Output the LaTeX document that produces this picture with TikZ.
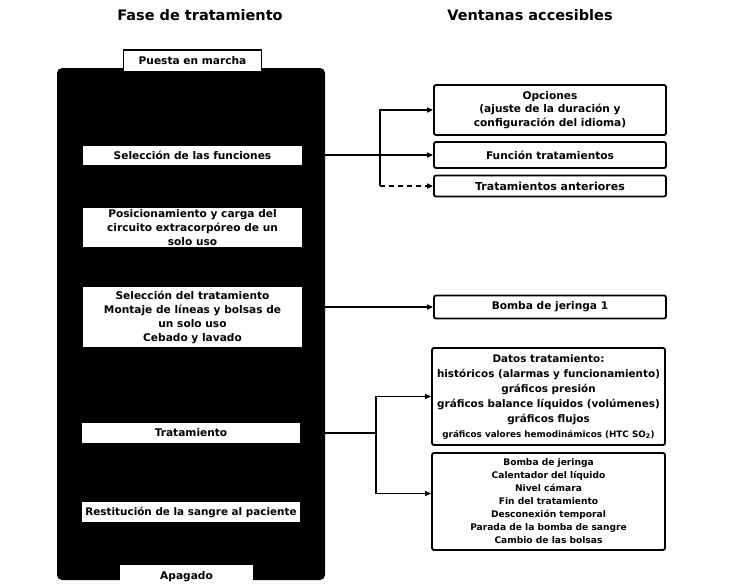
\documentclass[tikz,border=0pt]{standalone}
\usepackage{fontspec}
\setmainfont{DejaVu Sans}
\usetikzlibrary{arrows.meta}
\tikzset{
  strip/.style={fill=white, inner sep=0pt, align=center, font=\bfseries\fontsize{10.6}{14}\selectfont},
  winbox/.style={draw=black, line width=1.8pt, rounded corners=2pt, fill=white, inner sep=0pt, align=center, font=\bfseries\fontsize{10.6}{13.5}\selectfont},
  title/.style={font=\bfseries\fontsize{14.5}{17}\selectfont},
  conn/.style={line width=1.6pt, -{Triangle[length=6pt,width=5pt]}},
  plain/.style={line width=1.6pt}
}
\begin{document}
\begin{tikzpicture}[x=1pt,y=-1pt]
\useasboundingbox (0,0) rectangle (744,584);
\fill[white] (0,0) rectangle (744,584);
% titles
\node[title] (t1) at (200,15) {Fase de tratamiento};
\node[title] (t2) at (530,15) {Ventanas accesibles};
% big black panel
\fill[black, rounded corners=5pt] (57,68) rectangle (325,580);
% phase strips
\node[strip, draw=black, line width=1.5pt, minimum width=138pt, minimum height=22pt] (pm) at (192.5,61) {Puesta en marcha};
\node[strip, minimum width=219pt, minimum height=19pt] (sel) at (192.5,155) {Selección de las funciones};
\node[strip, minimum width=219pt, minimum height=39pt] (pos) at (192.5,227.5) {Posicionamiento y carga del\\circuito extracorpóreo de un\\solo uso};
\node[strip, minimum width=219pt, minimum height=60pt] (sel2) at (192.5,317) {Selección del tratamiento\\Montaje de líneas y bolsas de\\un solo uso\\Cebado y lavado};
\node[strip, minimum width=218pt, minimum height=20pt] (trat) at (191,433) {Tratamiento};
\node[strip, minimum width=218pt, minimum height=20pt, font=\bfseries\fontsize{10.4}{12}\selectfont] (rest) at (191,512) {Restitución de la sangre al paciente};
\node[strip, minimum width=133pt, minimum height=24pt] (apag) at (186.5,577) {Apagado};
% window boxes
\node[winbox, minimum width=232pt, minimum height=50pt] (opc) at (550,110) {Opciones\\(ajuste de la duración y\\configuración del idioma)};
\node[winbox, minimum width=232pt, minimum height=26pt] (fun) at (550,155) {Función tratamientos};
\node[winbox, minimum width=232pt, minimum height=21pt, font=\bfseries\fontsize{11}{13}\selectfont] (ant) at (550,186) {Tratamientos anteriores};
\node[winbox, minimum width=232pt, minimum height=23pt] (bom) at (550,307) {Bomba de jeringa 1};
\node[winbox, minimum width=233pt, minimum height=97pt, font=\bfseries\fontsize{10.4}{15}\selectfont] (dat) at (548.5,396.5) {Datos tratamiento:\\históricos (alarmas y funcionamiento)\\gráficos presión\\gráficos balance líquidos (volúmenes)\\gráficos flujos\\{\fontsize{8.8}{11}\selectfont gráficos valores hemodinámicos (HTC SO\textsubscript{2})}};
\node[winbox, minimum width=233pt, minimum height=97pt, font=\bfseries\fontsize{9.1}{13}\selectfont] (ctl) at (548.5,501.5) {Bomba de jeringa\\Calentador del líquido\\Nivel cámara\\Fin del tratamiento\\Desconexión temporal\\Parada de la bomba de sangre\\Cambio de las bolsas};
% connectors
\coordinate (b1) at (380,155);
\draw[conn] (sel.east) -- (fun.west);
\draw[conn] (b1) |- (opc.west);
\draw[plain] (b1) -- (380,186);
\draw[conn, dash pattern=on 5pt off 4pt] (380,186) -- (ant.west);
\draw[conn] (bom.west -| sel2.east) -- (bom.west);
\coordinate (b2) at (376,433);
\draw[plain] (trat.east) -- (b2);
\draw[conn] (b2) |- (dat.west);
\draw[conn] (b2) |- ([yshift=8pt]ctl.west);
\end{tikzpicture}
\end{document}
